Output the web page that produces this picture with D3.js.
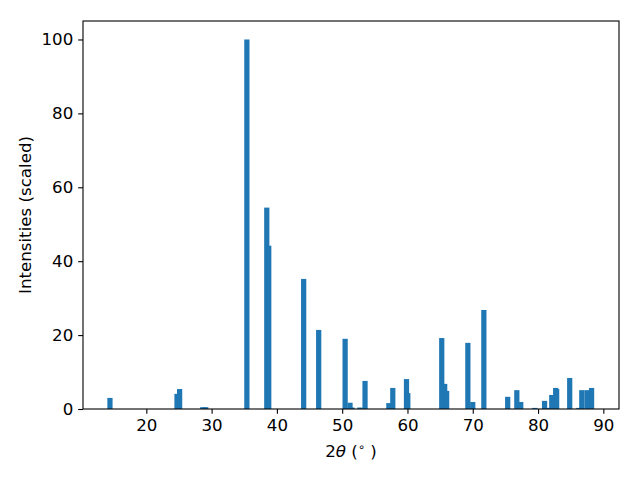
<!DOCTYPE html>
<html>
<head>
<meta charset="utf-8">
<script src="https://cdn.jsdelivr.net/npm/d3@7"></script>
<style>
  html, body { margin: 0; padding: 0; background: #fff; }
  svg { display: block; }
  text { font-family: "DejaVu Sans", sans-serif; fill: #000; }
</style>
</head>
<body>
<svg id="chart" width="640" height="480"></svg>
<script>
const positions = [14.43, 24.7, 25.1, 28.65, 29.1, 35.4, 38.45, 38.75, 44.1, 46.4,
  50.45, 51.2, 51.5, 52.7, 53.5, 57.15, 57.75, 59.85, 60.05, 65.25, 65.7, 66.0,
  69.25, 70.0, 71.7, 75.35, 76.75, 77.35, 79.5, 81.0, 81.7, 82.1, 82.7, 82.85,
  84.85, 86.25, 86.7, 87.5, 88.2];
const intensities = [3.0, 4.1, 5.4, 0.5, 0.5, 100, 54.5, 44.2, 35.2, 21.4,
  19.0, 1.7, 0.4, 0.4, 7.6, 1.6, 5.7, 8.1, 4.3, 19.2, 6.8, 4.9,
  17.9, 1.9, 26.8, 3.3, 5.1, 1.9, 0.3, 2.2, 0.3, 3.8, 5.7, 5.4,
  8.4, 0.3, 5.1, 5.1, 5.7];
const xTicks = [20, 30, 40, 50, 60, 70, 80, 90];
const yTicks = [0, 20, 40, 60, 80, 100];
const barWidth = 0.8;

(function () {
  const mL = 83, mR = 619, mT = 21, mB = 409;
  const svg = d3.select("#chart");
  const x = d3.scaleLinear().domain([10.3, 92.4]).range([mL, mR]);
  const y = d3.scaleLinear().domain([0, 105]).range([mB, mT]);

  const data = positions.map((p, i) => ({ p, v: intensities[i] }));

  svg.append("g").selectAll("rect").data(data).enter().append("rect")
    .attr("x", d => x(d.p - barWidth / 2))
    .attr("width", d => x(d.p + barWidth / 2) - x(d.p - barWidth / 2))
    .attr("y", d => y(d.v))
    .attr("height", d => y(0) - y(d.v))
    .attr("fill", "#1f77b4");

  const tickLen = 4.86, fs = "16.67px";
  const xAxis = svg.append("g").attr("transform", `translate(0,${mB})`)
    .call(d3.axisBottom(x).tickValues(xTicks).tickSize(tickLen).tickPadding(4.86).tickSizeOuter(0).tickFormat(d3.format("d")));
  const yAxis = svg.append("g").attr("transform", `translate(${mL},0)`)
    .call(d3.axisLeft(y).tickValues(yTicks).tickSize(tickLen).tickPadding(4.86).tickSizeOuter(0).tickFormat(d3.format("d")));
  [xAxis, yAxis].forEach(a => {
    a.select(".domain").remove();
    a.selectAll("line").attr("stroke", "#000").attr("stroke-width", 1.1);
    a.selectAll("text").attr("font-family", "DejaVu Sans").attr("font-size", fs).attr("fill", "#000");
  });

  svg.append("rect").attr("x", mL).attr("y", mT)
    .attr("width", mR - mL).attr("height", mB - mT)
    .attr("fill", "none").attr("stroke", "#000").attr("stroke-width", 1.1);

  const xl = svg.append("text").attr("x", (mL + mR) / 2).attr("y", 457)
    .attr("text-anchor", "middle").attr("font-size", fs);
  xl.append("tspan").text("2");
  xl.append("tspan").attr("font-style", "italic").text("θ");
  xl.append("tspan").text(" (");
  xl.append("tspan").attr("font-size", "11.5px").attr("dy", "-6").text("∘");
  xl.append("tspan").attr("dy", "6").text(" )");

  svg.append("text")
    .attr("transform", `translate(31,${(mT + mB) / 2}) rotate(-90)`)
    .attr("text-anchor", "middle").attr("font-size", fs)
    .text("Intensities (scaled)");
})();
</script>
</body>
</html>
